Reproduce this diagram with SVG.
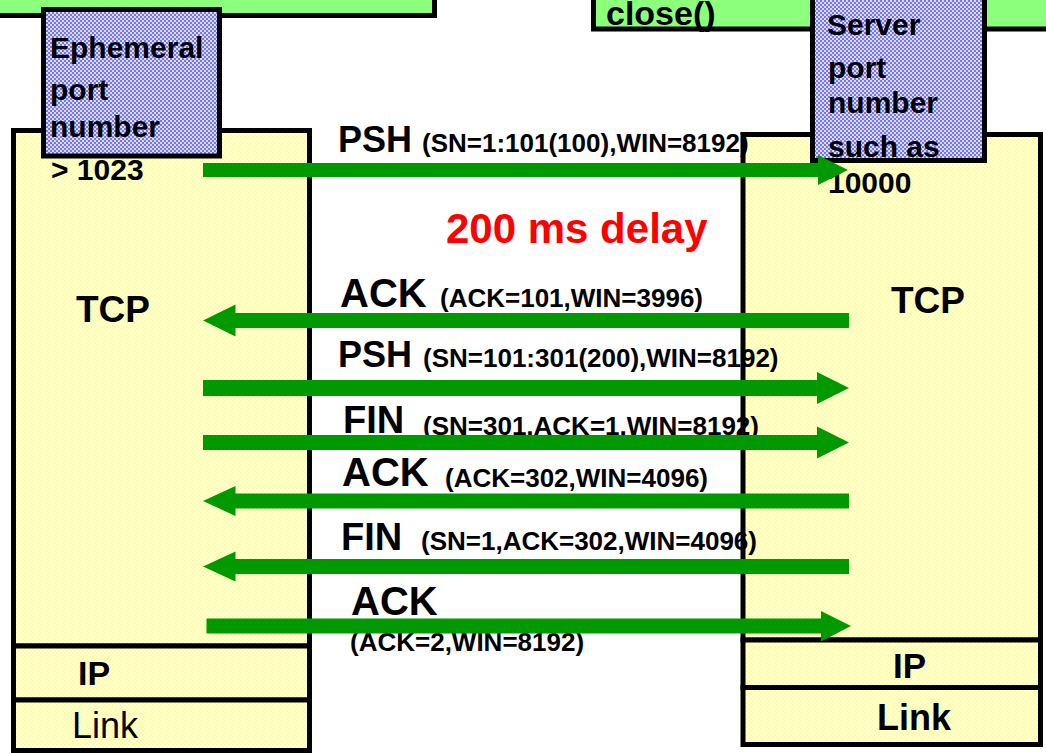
<svg xmlns="http://www.w3.org/2000/svg" width="1046" height="753" viewBox="0 0 1046 753">
<defs>
<pattern id="yel" width="4" height="4" patternUnits="userSpaceOnUse"><rect width="4" height="4" fill="#ffffe2"/><rect width="2" height="2" fill="#ffff9e"/><rect x="2" y="2" width="2" height="2" fill="#ffff9e"/></pattern>
<pattern id="blu" width="4" height="4" patternUnits="userSpaceOnUse"><rect width="4" height="4" fill="#dcdcff"/><rect width="2" height="2" fill="#7474f4"/><rect x="2" y="2" width="2" height="2" fill="#7474f4"/></pattern>
<style>
.box{stroke:#000;stroke-width:5}
.y{fill:url(#yel)}
.b{fill:url(#blu)}
.g{fill:#8cff7c}
text{font-family:"Liberation Sans",Arial,Helvetica,sans-serif;font-weight:bold;fill:#000}
.port{font-size:30px}
.big{font-size:37px}
.sm{font-size:26px}
.arr{fill:#009900}
</style>
</defs>
<g id="app-left"><rect class="box g" x="-10" y="-10" width="444.5" height="25.5"/></g>
<g id="app-right"><rect class="box g" x="593.5" y="-10" width="470" height="39"/><text x="606" y="25" style="font-size:34px">close()</text></g>
<g id="tcp-left"><rect class="box y" x="13.5" y="130.5" width="296" height="515.5"/><text x="76" y="322" class="big">TCP</text></g>
<g id="ip-left"><rect class="box y" x="13.5" y="646" width="296" height="54"/><text x="78" y="685" style="font-size:34px">IP</text></g>
<g id="link-left"><rect class="box y" x="13.5" y="700" width="296" height="50.5"/><text x="72" y="738" style="font-size:36px;font-weight:normal">Link</text></g>
<g id="tcp-right"><rect class="box y" x="743" y="134.5" width="297.5" height="505.5"/><text x="891" y="313" class="big">TCP</text></g>
<g id="ip-right"><rect class="box y" x="743" y="640" width="297.5" height="47.5"/><text x="893" y="678" style="font-size:35px">IP</text></g>
<g id="link-right"><rect class="box y" x="743" y="687.5" width="297.5" height="57"/><text x="877" y="730" style="font-size:36px">Link</text></g>
<g id="port-left"><rect class="box b" x="43.5" y="9.5" width="176" height="146.5"/>
<text class="port" x="50" y="58">Ephemeral</text><text class="port" x="50" y="100">port</text><text class="port" x="50" y="137">number</text><text class="port" x="51" y="180">&gt; 1023</text></g>
<g id="port-right"><rect class="box b" x="812.5" y="-10" width="172" height="170.5"/>
<text class="port" x="827" y="35">Server</text><text class="port" x="828" y="78">port</text><text class="port" x="828" y="113">number</text><text class="port" x="828" y="157">such as</text><text class="port" x="828" y="193">10000</text></g>
<g id="labels">
<text x="338" y="152" style="font-size:36px">PSH</text><text x="422" y="152" class="sm">(SN=1:101(100),WIN=8192)</text>
<text x="446" y="243" style="font-size:42px;fill:#ff0000">200 ms delay</text>
<text x="340" y="307" style="font-size:40px">ACK</text><text x="440" y="307" class="sm">(ACK=101,WIN=3996)</text>
<text x="338" y="367" style="font-size:36px">PSH</text><text x="423" y="367" class="sm">(SN=101:301(200),WIN=8192)</text>
<text x="343" y="433" style="font-size:38px">FIN</text><text x="423" y="435" class="sm">(SN=301,ACK=1,WIN=8192)</text>
<text x="342" y="486" style="font-size:40px">ACK</text><text x="445" y="487" class="sm">(ACK=302,WIN=4096)</text>
<text x="341" y="550" style="font-size:38px">FIN</text><text x="421" y="550" class="sm">(SN=1,ACK=302,WIN=4096)</text>
<text x="351" y="615" style="font-size:40px">ACK</text><text x="350" y="651" class="sm">(ACK=2,WIN=8192)</text>
</g>
<g id="connectors" class="arr">
<polygon points="203,163 818,163 818,155 848,170 818,185 818,177 203,177"/>
<polygon points="849,313 235.5,313 235.5,304.5 203,320.5 235.5,336.5 235.5,328 849,328"/>
<polygon points="203,380 817,380 817,372 849,388 817,404 817,396 203,396"/>
<polygon points="203,435 817,435 817,426.5 849,442.5 817,458.5 817,450 203,450"/>
<polygon points="849,493.5 235.5,493.5 235.5,486 203,501 235.5,516 235.5,508.5 849,508.5"/>
<polygon points="849,559 235.5,559 235.5,551.5 203,566.5 235.5,581.5 235.5,574 849,574"/>
<polygon points="206.5,618.5 821,618.5 821,611 851,626 821,641.5 821,633.5 206.5,633.5"/>
</g>
</svg>
